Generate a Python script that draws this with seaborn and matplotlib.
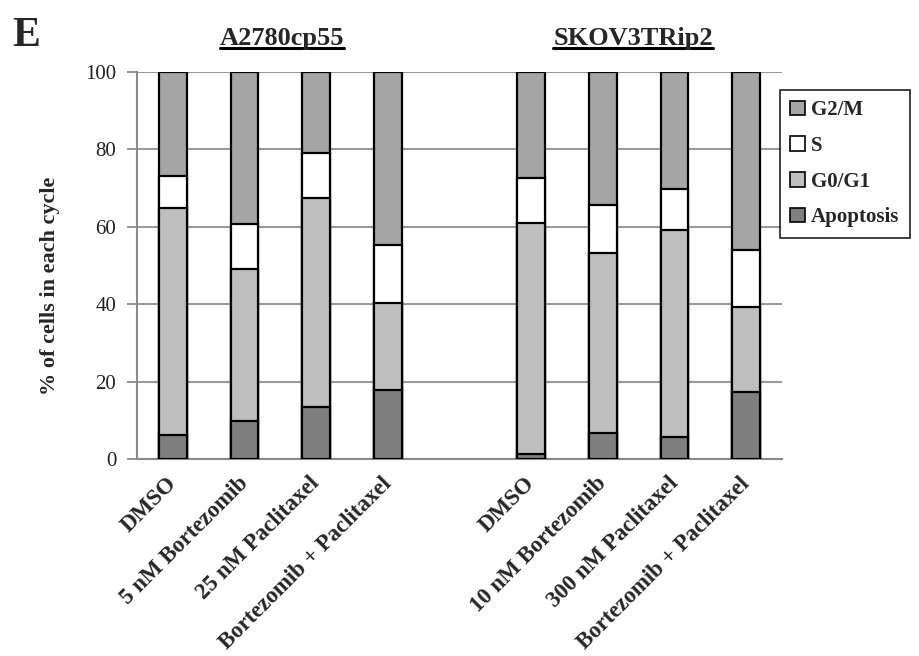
import matplotlib
matplotlib.use("Agg")
import matplotlib.pyplot as plt
from matplotlib.patches import Patch
from matplotlib.lines import Line2D
from matplotlib.transforms import ScaledTranslation
import numpy as np
import pandas as pd
import seaborn as sns

# Treatment groups (position 4 is left empty to separate the two cell lines)
positions = [0, 1, 2, 3, 5, 6, 7, 8]
tick_labels = ["DMSO", "5 nM Bortezomib", "25 nM Paclitaxel", "Bortezomib + Paclitaxel",
               "DMSO", "10 nM Bortezomib", "300 nM Paclitaxel", "Bortezomib + Paclitaxel"]
cell_lines = ["A2780cp55", "SKOV3TRip2"]

# Percent of cells in each phase
apoptosis = [6.2, 9.8, 13.4, 17.9, 1.2, 6.6, 5.8, 17.4]
g0_g1 = [58.6, 39.2, 54.0, 22.3, 59.9, 46.6, 53.5, 21.9]
s_phase = [8.3, 11.7, 11.6, 15.2, 11.4, 12.4, 10.4, 14.7]
g2_m = [26.9, 39.3, 21.0, 44.6, 27.5, 34.4, 30.3, 46.0]

phases = ["Apoptosis", "G0/G1", "S", "G2/M"]
colors = {"Apoptosis": "#7f7f7f", "G0/G1": "#bfbfbf", "S": "#ffffff", "G2/M": "#a5a5a5"}

df = pd.DataFrame({"pos": positions, "Apoptosis": apoptosis, "G0/G1": g0_g1,
                   "S": s_phase, "G2/M": g2_m})
cum = df[phases].cumsum(axis=1)

sns.set_theme(style="white")
plt.rcParams["font.family"] = ["Liberation Serif", "DejaVu Serif"]

fig = plt.figure(figsize=(9.19, 6.56), dpi=100)
ax = fig.add_axes([137 / 919, 1 - 459 / 656, (782 - 137) / 919, (459 - 72) / 656])

# Stacked bars: draw cumulative totals from the top segment down
for ph in reversed(phases):
    sns.barplot(x=df["pos"], y=cum[ph], color=colors[ph], saturation=1,
                edgecolor="black", linewidth=1.6, width=0.39,
                native_scale=True, ax=ax, zorder=3)

ax.set_xlim(-0.5, 8.5)
ax.set_ylim(0, 100)
ax.set_yticks([0, 20, 40, 60, 80, 100])
ax.set_yticklabels(["0", "20", "40", "60", "80", "100"], fontsize=15, color="#222222")
ax.yaxis.grid(True, color="#9a9a9a", linewidth=1.5, zorder=0)
ax.set_axisbelow(True)

ax.set_xticks(positions)
ax.set_xticklabels(tick_labels, rotation=45, ha="right", rotation_mode="anchor",
                   fontsize=16.5, fontweight="bold")
ax.set_xticks(np.arange(-0.5, 9.0, 1.0), minor=True)
ax.tick_params(axis="x", which="major", length=0, pad=10)
ax.tick_params(axis="x", which="minor", length=7, width=1.3, color="#8a8a8a", direction="out")
ax.tick_params(axis="y", which="major", length=7, width=1.3, color="#8a8a8a",
               direction="out", left=True, pad=8)

# nudge the slanted category labels slightly to the left
shift = ScaledTranslation(-7 / 100, 0, fig.dpi_scale_trans)
for lab in ax.get_xticklabels():
    lab.set_transform(lab.get_transform() + shift)

for side in ["top", "right"]:
    ax.spines[side].set_visible(False)
for side in ["left", "bottom"]:
    ax.spines[side].set_color("#8a8a8a")
    ax.spines[side].set_linewidth(1.5)

ax.set_xlabel("")
ax.set_ylabel("% of cells in each cycle", fontsize=16, fontweight="bold")
ax.yaxis.set_label_coords(-0.12, 0.447)

# Legend
handles = [Patch(facecolor=colors[p], edgecolor="black", linewidth=1.2, label=p)
           for p in ["G2/M", "S", "G0/G1", "Apoptosis"]]
leg = fig.legend(handles=handles, loc="upper left",
                 bbox_to_anchor=(780 / 919, 1 - 90 / 656), borderaxespad=0,
                 prop={"weight": "bold", "size": 15}, frameon=True, fancybox=False,
                 handlelength=0.7, handleheight=0.7, handletextpad=0.3,
                 labelspacing=0.75, borderpad=0.5)
leg.get_frame().set_edgecolor("black")
leg.get_frame().set_linewidth(1.3)

# Panel letter and cell-line headings (underlined)
fig.text(12 / 919, 1 - 36 / 656, "E", fontsize=30, fontweight="bold", va="center")
heads = []
for name, xc in zip(cell_lines, [282, 633]):
    t = fig.text(xc / 919, 1 - 38 / 656, name, fontsize=19, fontweight="bold",
                 ha="center", va="center")
    heads.append(t)

fig.canvas.draw()
renderer = fig.canvas.get_renderer()
inv = fig.transFigure.inverted()
for t in heads:
    bb = t.get_window_extent(renderer)
    (x0, y0), (x1, y1) = inv.transform([(bb.x0, bb.y0), (bb.x1, bb.y1)])
    fig.add_artist(Line2D([x0, x1], [y0 + 0.002, y0 + 0.002], transform=fig.transFigure,
                          color="black", linewidth=2.2))

fig.savefig("out.png", dpi=100)
